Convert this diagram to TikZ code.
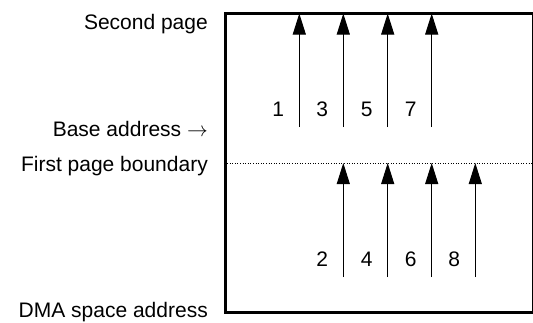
\documentclass[tikz,border=0pt]{standalone}
\usepackage{fontspec}
\setmainfont{Liberation Sans}
\usetikzlibrary{arrows.meta}
\begin{document}
\begin{tikzpicture}[x=1pt,y=-1pt,
  lbl/.style={font=\fontsize{21}{24}\selectfont, inner sep=0pt, anchor=base east},
  num/.style={font=\fontsize{21}{24}\selectfont, inner sep=0pt, anchor=base},
  up/.style={line width=1pt, -{Triangle[length=21pt,width=13pt]}},
  frame/.style={line width=3pt},
  boundary/.style={line width=0.6pt, dotted}]
\useasboundingbox (0,0) rectangle (533,322);
\node[lbl] (sp) at (208,29.3) {Second page};
\node[lbl] (ba) at (208,136.7) {Base address $\rightarrow$};
\node[lbl] (fp) at (208,171.7) {First page boundary};
\node[lbl] (dma) at (208,317.3) {DMA space address};
\draw[frame] (225.5,13.5) rectangle (533.5,312);
\coordinate (bl) at (227,163);
\coordinate (br) at (533,163);
\draw[boundary] (bl) -- (br);
% upper arrows
\foreach \x/\n [count=\i] in {299.3/1,343.3/3,387.7/5,431.7/7}{
  \coordinate (us\i) at (\x,127);
  \coordinate (ue\i) at (\x,13.5);
  \draw[up] (us\i) -- (ue\i);
  \node[num] (un\i) at (\x-21,116) {\n};
}
% lower arrows
\foreach \x/\n [count=\i] in {343.3/2,387.7/4,431.7/6,475.3/8}{
  \coordinate (ls\i) at (\x,277);
  \coordinate (le\i) at (\x,163);
  \draw[up] (ls\i) -- (le\i);
  \node[num] (ln\i) at (\x-21,266) {\n};
}
\end{tikzpicture}
\end{document}
